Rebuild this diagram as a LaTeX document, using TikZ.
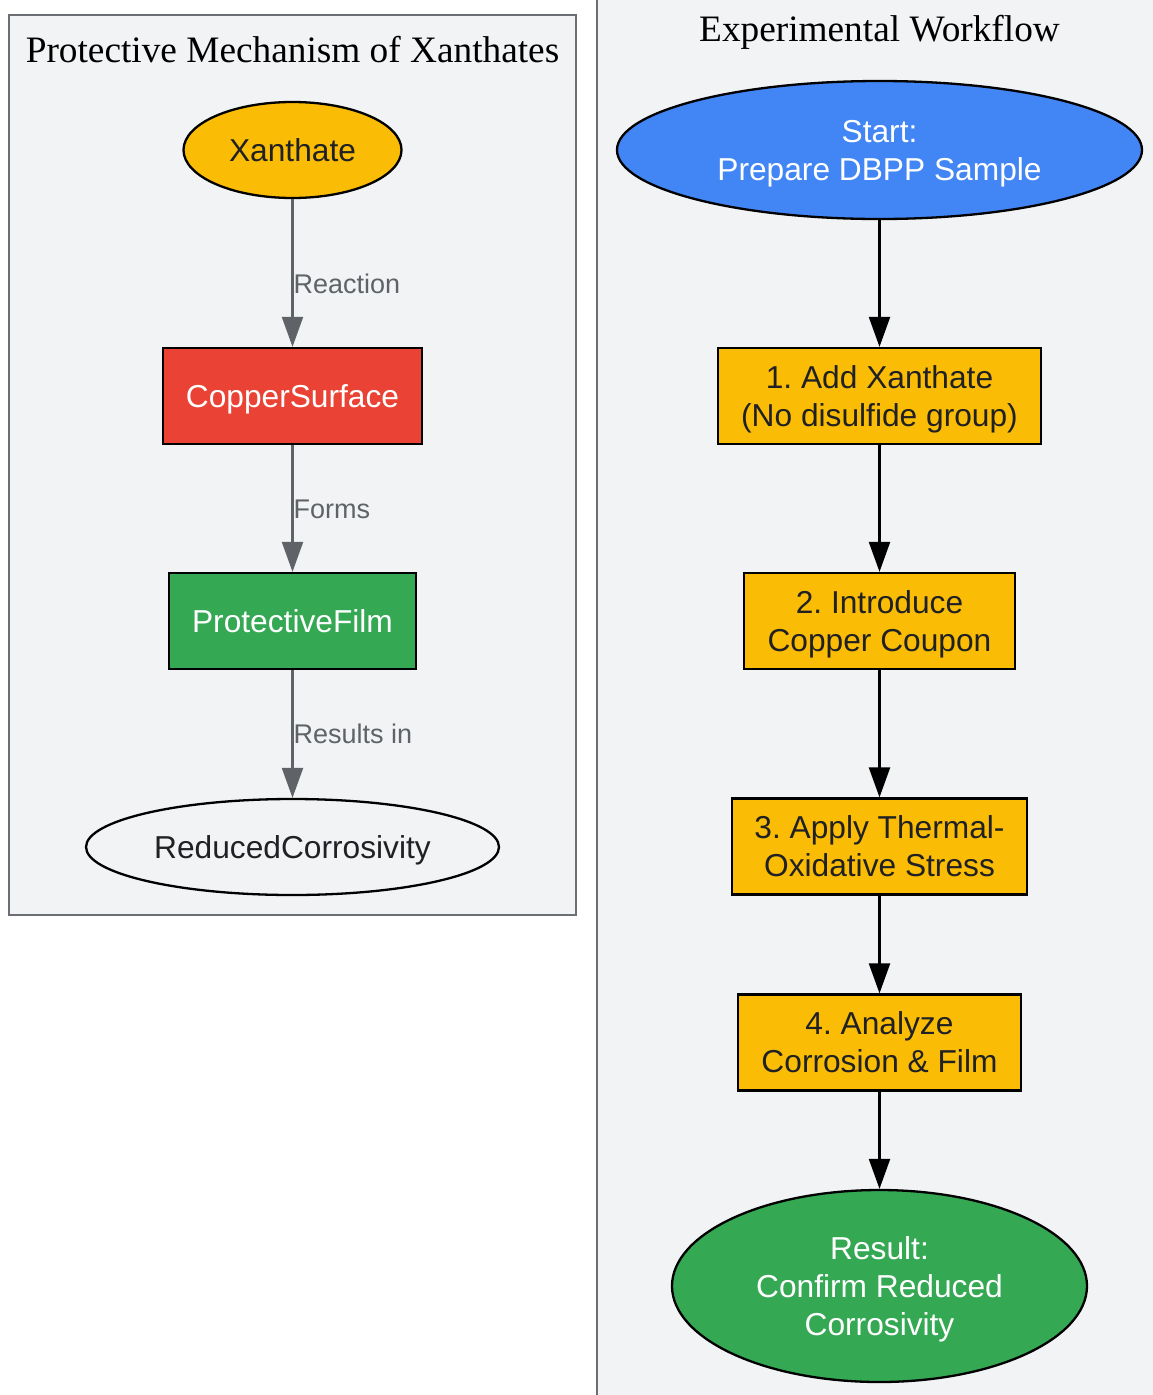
\documentclass[tikz,border=0pt]{standalone}
\usepackage{fontspec}
\setmainfont{Liberation Serif}
\setsansfont{Liberation Sans}
\usetikzlibrary{shapes.geometric,arrows.meta}
\frenchspacing
\definecolor{clbg}{HTML}{F1F3F4}
\definecolor{clborder}{HTML}{6B6E72}
\definecolor{gyel}{HTML}{FBBC05}
\definecolor{gred}{HTML}{EA4335}
\definecolor{ggreen}{HTML}{34A853}
\definecolor{gblue}{HTML}{4285F4}
\definecolor{dtext}{HTML}{202124}
\definecolor{gedge}{HTML}{5F6368}
\tikzset{
  cluster/.style={draw=clborder, fill=clbg, line width=2pt},
  ctitle/.style={font=\rmfamily\frenchspacing\fontsize{37.3}{44}\selectfont, anchor=base, inner sep=0},
  nodetxt/.style={font=\sffamily\frenchspacing\fontsize{31.7}{38}\selectfont, align=center, inner sep=0, text depth=0pt, line width=2.3pt, draw=black},
  boxnode/.style={nodetxt, rectangle},
  ellnode/.style={nodetxt, ellipse},
  lbl/.style={font=\sffamily\fontsize{27}{32}\selectfont, text=gedge, anchor=west, inner sep=0},
  gedgearrow/.style={draw=gedge, line width=2.3pt, -{Triangle[length=30pt,width=21pt]}},
  bedgearrow/.style={draw=black, line width=2.3pt, -{Triangle[length=30pt,width=21pt]}},
}
\begin{document}
\begin{tikzpicture}[x=1pt,y=-1pt]
\useasboundingbox (0,0) rectangle (1153,1395);
\clip (0,0) rectangle (1153,1395);
\fill[white] (0,0) rectangle (1153,1395);
% clusters
\draw[cluster] (9,15) rectangle (576,915);
\draw[cluster] (597,-10) rectangle (1170,1410);
\node[ctitle] (t1) at (292.5,62) {Protective Mechanism of Xanthates};
\node[ctitle] (t2) at (879.5,41) {Experimental Workflow};
% left nodes
\node[ellnode, fill=gyel, text=dtext, minimum width=218pt, minimum height=96pt] (xan) at (292.5,150) {Xanthate};
\node[boxnode, fill=gred, text=white, minimum width=259pt, minimum height=96pt] (cu) at (292.5,396) {CopperSurface};
\node[boxnode, fill=ggreen, text=white, minimum width=247pt, minimum height=96pt] (pf) at (292.5,621) {ProtectiveFilm};
\node[ellnode, fill=clbg, text=dtext, minimum width=413pt, minimum height=96pt] (rc) at (292.5,847) {ReducedCorrosivity};
\draw[gedgearrow] (xan) -- node[lbl, pos=0.575] {Reaction} (cu);
\draw[gedgearrow] (cu) -- node[lbl, pos=0.505] {Forms} (pf);
\draw[gedgearrow] (pf) -- node[lbl, pos=0.5] {Results in} (rc);
% right nodes
\node[ellnode, fill=gblue, text=white, minimum width=525pt, minimum height=138pt] (start) at (879.5,150) {Start:\\Prepare DBPP Sample};
\node[boxnode, fill=gyel, text=dtext, minimum width=323pt, minimum height=96pt] (s1) at (879.5,396) {1. Add Xanthate\\(No disulfide group)};
\node[boxnode, fill=gyel, text=dtext, minimum width=271pt, minimum height=96pt] (s2) at (879.5,621) {2. Introduce\\Copper Coupon};
\node[boxnode, fill=gyel, text=dtext, minimum width=295pt, minimum height=96pt] (s3) at (879.5,846.5) {3. Apply Thermal-\\Oxidative Stress};
\node[boxnode, fill=gyel, text=dtext, minimum width=283pt, minimum height=96pt] (s4) at (879.5,1042.5) {4. Analyze\\Corrosion \& Film};
\node[ellnode, fill=ggreen, text=white, minimum width=415pt, minimum height=192pt] (res) at (879.5,1286) {Result:\\Confirm Reduced\\Corrosivity};
\draw[bedgearrow] (start) -- (s1);
\draw[bedgearrow] (s1) -- (s2);
\draw[bedgearrow] (s2) -- (s3);
\draw[bedgearrow] (s3) -- (s4);
\draw[bedgearrow] (s4) -- (res);
\end{tikzpicture}
\end{document}
